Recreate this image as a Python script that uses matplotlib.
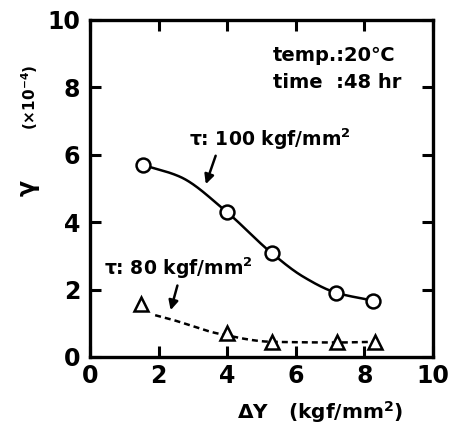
import numpy as np
import matplotlib
matplotlib.use("Agg")
import matplotlib.pyplot as plt

# ---- data ----
dy_100 = [1.54, 3.98, 5.30, 7.17, 8.26]
gamma_100 = [5.70, 4.31, 3.08, 1.91, 1.67]

dy_80 = [1.5, 4.0, 5.3, 7.2, 8.3]
gamma_80 = [1.56, 0.70, 0.45, 0.43, 0.45]

# hand-drawn fit curves
fit100_x = [1.54, 2.62, 3.98, 5.30, 6.22, 7.17, 8.26]
fit100_y = [5.70, 5.35, 4.31, 3.08, 2.38, 1.91, 1.67]
fit80_x = [1.9, 2.35, 3.8, 5.3, 7.2, 8.3]
fit80_y = [1.24, 1.12, 0.68, 0.45, 0.43, 0.45]

xticks = [0, 2, 4, 6, 8, 10]
yticks = [0, 2, 4, 6, 8, 10]


def pchip(x, y, xn):
    x = np.asarray(x, float); y = np.asarray(y, float)
    h = np.diff(x); d = np.diff(y) / h
    n = len(x); m = np.zeros(n)
    for k in range(1, n - 1):
        if d[k - 1] * d[k] > 0:
            w1 = 2 * h[k] + h[k - 1]; w2 = h[k] + 2 * h[k - 1]
            m[k] = (w1 + w2) / (w1 / d[k - 1] + w2 / d[k])
    m[0] = d[0]; m[-1] = d[-1]
    idx = np.clip(np.searchsorted(x, xn) - 1, 0, n - 2)
    t = (xn - x[idx]) / h[idx]
    h00 = 2 * t**3 - 3 * t**2 + 1; h10 = t**3 - 2 * t**2 + t
    h01 = -2 * t**3 + 3 * t**2; h11 = t**3 - t**2
    return h00 * y[idx] + h10 * h[idx] * m[idx] + h01 * y[idx + 1] + h11 * h[idx] * m[idx + 1]


plt.rcParams['font.family'] = ['DejaVu Sans']
plt.rcParams['font.weight'] = 'bold'

fig = plt.figure(figsize=(4.58, 4.30), dpi=100)
ax = fig.add_axes([0.1965, 0.1698, 0.7489, 0.7837])

# curves
xs = np.linspace(fit100_x[0], fit100_x[-1], 400)
ax.plot(xs, pchip(fit100_x, fit100_y, xs), color='black', lw=1.8, zorder=2)
xs2 = np.linspace(fit80_x[0], fit80_x[-1], 300)
ax.plot(xs2, pchip(fit80_x, fit80_y, xs2), color='black', lw=1.8,
        dashes=(2.4, 1.6), zorder=2)

# markers
ax.plot(dy_100, gamma_100, 'o', ms=10, mfc='white', mec='black', mew=1.8,
        ls='none', zorder=3)
ax.plot(dy_80, gamma_80, '^', ms=9.5, mfc='white', mec='black', mew=1.8,
        ls='none', zorder=3)

ax.set_xlim(0, 10)
ax.set_ylim(0, 10)
ax.set_xticks(xticks)
ax.set_yticks(yticks)
ax.set_xticklabels([str(v) for v in xticks])
ax.set_yticklabels([str(v) for v in yticks])
ax.tick_params(direction='in', length=8, width=2.2, top=True, right=True,
               labelsize=17)
ax.tick_params(axis='x', pad=5)
ax.tick_params(axis='y', pad=7)
for s in ax.spines.values():
    s.set_linewidth(2.4)

# annotations
ax.text(2.9, 6.45, 'τ: 100 kgf/mm$^\\mathbf{2}$', fontsize=13.5, va='center',
        ha='left')
ax.annotate('', xy=(3.35, 5.05), xytext=(3.69, 6.05),
            arrowprops=dict(arrowstyle='-|>', color='black', lw=1.8,
                            mutation_scale=14))
ax.text(0.42, 2.62, 'τ: 80 kgf/mm$^\\mathbf{2}$', fontsize=13.5, va='center',
        ha='left')
ax.annotate('', xy=(2.33, 1.31), xytext=(2.57, 2.2),
            arrowprops=dict(arrowstyle='-|>', color='black', lw=1.8,
                            mutation_scale=14))

ax.text(5.33, 8.96, 'temp.:20℃', fontsize=14, va='center', ha='left')
ax.text(5.33, 8.14, 'time  :48 hr', fontsize=14, va='center', ha='left')

# axis labels
fig.text(320 / 458, 1 - 412 / 430, 'ΔY   (kgf/mm$^\\mathbf{2}$)', fontsize=14.5,
         ha='center', va='center')
fig.text(28 / 458, 1 - 188 / 430, 'γ', fontsize=17, rotation=90,
         ha='center', va='center')
fig.text(30 / 458, 1 - 97 / 430, '(×10$^{\\mathbf{-4}}$)', fontsize=11,
         rotation=90, ha='center', va='center')

fig.savefig('out.png', dpi=100)
